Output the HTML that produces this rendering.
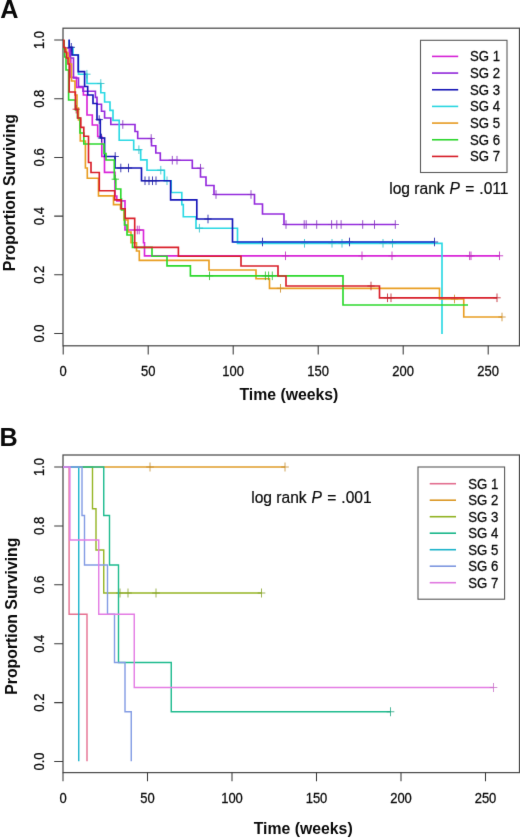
<!DOCTYPE html>
<html lang="en">
<head>
<meta charset="utf-8">
<title>Kaplan-Meier survival curves</title>
<style>
html,body{margin:0;padding:0;background:#fff;}
body{width:520px;height:839px;overflow:hidden;font-family:"Liberation Sans",sans-serif;}
svg{display:block;}
svg text{font-family:"Liberation Sans",sans-serif;fill:#0a0a0a;}
.tk{font-size:13px;stroke:#0a0a0a;stroke-width:0.25px;}
.ax{font-size:15.8px;font-weight:bold;}
.pl{font-size:25.2px;font-weight:bold;}
.lg{font-size:13.2px;stroke:#0a0a0a;stroke-width:0.25px;}
.an{font-size:15.6px;stroke:#0a0a0a;stroke-width:0.2px;}
</style>
</head>
<body>
<svg width="520" height="839" viewBox="0 0 520 839">
<defs><filter id="soft" x="0" y="0" width="520" height="839" filterUnits="userSpaceOnUse" color-interpolation-filters="sRGB"><feConvolveMatrix order="3" kernelMatrix="0.0072 0.0847 0.0072 0.0847 1 0.0847 0.0072 0.0847 0.0072" divisor="1.3673" edgeMode="duplicate" preserveAlpha="false"/></filter></defs>
<g filter="url(#soft)">
<rect width="520" height="839" fill="#fff"/>
<text class="pl" x="0.2" y="17.6">A</text>
<text class="pl" x="-0.5" y="445.6">B</text>
<rect x="63" y="28.2" width="456.5" height="317.6" fill="none" stroke="#4c4c4c" stroke-width="1.25"/>
<path d="M63.2 345.8v8.6M148.2 345.8v8.6M233.2 345.8v8.6M318.2 345.8v8.6M403.2 345.8v8.6M488.2 345.8v8.6M63 333.5h-8.8M63 274.8h-8.8M63 216.1h-8.8M63 157.4h-8.8M63 98.7h-8.8M63 40h-8.8" stroke="#3a3a3a" stroke-width="1.05" fill="none"/>
<text class="tk" transform="translate(63.2 375.6) scale(1 1.1)" text-anchor="middle">0</text>
<text class="tk" transform="translate(148.2 375.6) scale(1 1.1)" text-anchor="middle">50</text>
<text class="tk" transform="translate(233.2 375.6) scale(1 1.1)" text-anchor="middle">100</text>
<text class="tk" transform="translate(318.2 375.6) scale(1 1.1)" text-anchor="middle">150</text>
<text class="tk" transform="translate(403.2 375.6) scale(1 1.1)" text-anchor="middle">200</text>
<text class="tk" transform="translate(488.2 375.6) scale(1 1.1)" text-anchor="middle">250</text>
<text class="tk" transform="translate(43.5 333.5) rotate(-90) scale(1 1.12)" text-anchor="middle">0.0</text>
<text class="tk" transform="translate(43.5 274.8) rotate(-90) scale(1 1.12)" text-anchor="middle">0.2</text>
<text class="tk" transform="translate(43.5 216.1) rotate(-90) scale(1 1.12)" text-anchor="middle">0.4</text>
<text class="tk" transform="translate(43.5 157.4) rotate(-90) scale(1 1.12)" text-anchor="middle">0.6</text>
<text class="tk" transform="translate(43.5 98.7) rotate(-90) scale(1 1.12)" text-anchor="middle">0.8</text>
<text class="tk" transform="translate(43.5 40) rotate(-90) scale(1 1.12)" text-anchor="middle">1.0</text>
<text class="ax" transform="translate(14.5 192.6) rotate(-90)" text-anchor="middle">Proportion Surviving</text>
<text class="ax" x="288.9" y="399.8" text-anchor="middle">Time (weeks)</text>
<g class="curvesA">
<path d="M63.9 40H63.9V48H69.2V59H70.8V77.3H76.5V87.3H83.4V95H87V115H92.3V125H97.7V136.5H101.8V156.5H104.5V172.3H115V196H116.8V200.8H125V230H143.5V242.7H144.5V255.8H499.5" stroke="#d925d9" stroke-width="1.65" fill="none"/>
<path d="M137.3 225.7v8.6M133.65 230h7.31M139.2 225.7v8.6M135.54 230h7.31M285.5 251.5v8.6M281.85 255.8h7.31M362 251.5v8.6M358.35 255.8h7.31M392 251.5v8.6M388.35 255.8h7.31M469.6 251.5v8.6M465.95 255.8h7.31M471 251.5v8.6M467.35 255.8h7.31M499.5 251.5v8.6M495.85 255.8h7.31" stroke="#c02ac0" stroke-width="0.85" fill="none"/>
<path d="M63.9 40H63.9V48H70.5V58H73.5V78H78.5V86.5H83V91.2H95.4V97.3H97V104.2H101.5V111.2H104.6V118H110.8V124.5H135V131.5H137.7V138.5H151.5V145.7H155.8V153H160.3V160.2H192.3V168.2H200.5V177H206V185.5H214V194.5H254.5V204H262.5V214H284V224.5H395.3" stroke="#952bdd" stroke-width="1.65" fill="none"/>
<path d="M122.8 120.2v8.6M119.14 124.5h7.31M151.2 134.2v8.6M147.54 138.5h7.31M172.3 155.9v8.6M168.65 160.2h7.31M177 155.9v8.6M173.34 160.2h7.31M200.5 163.9v8.6M196.84 168.2h7.31M216 190.2v8.6M212.34 194.5h7.31M251 190.2v8.6M247.34 194.5h7.31M286 220.2v8.6M282.35 224.5h7.31M304.2 220.2v8.6M300.55 224.5h7.31M306.2 220.2v8.6M302.55 224.5h7.31M316.7 220.2v8.6M313.05 224.5h7.31M331.6 220.2v8.6M327.95 224.5h7.31M336.8 220.2v8.6M333.15 224.5h7.31M341.1 220.2v8.6M337.45 224.5h7.31M362.7 220.2v8.6M359.05 224.5h7.31M374.5 220.2v8.6M370.85 224.5h7.31M395.3 220.2v8.6M391.65 224.5h7.31" stroke="#872fc3" stroke-width="0.85" fill="none"/>
<path d="M69.2 40H69.2V47.5H73V55H78.5V74.2H87V83.5H100.8V92.7H104.6V102H110V110.4H113V120.4H119.2V140.2H133.7V149.7H140.7V159.8H147V170.2H164.4V180.75H171.2V192.5H181.8V204.6H183.3V216.7H196V228.2H237.5V243.3H442V334H442" stroke="#2cd9e4" stroke-width="1.65" fill="none"/>
<path d="M86.9 69.9v8.6M83.25 74.2h7.31M100.8 79.2v8.6M97.14 83.5h7.31M138.9 145.4v8.6M135.25 149.7h7.31M160.8 165.9v8.6M157.15 170.2h7.31M167 176.45v8.6M163.34 180.75h7.31M199.4 223.9v8.6M195.75 228.2h7.31M304.5 239v8.6M300.85 243.3h7.31M332 239v8.6M328.35 243.3h7.31M342 239v8.6M338.35 243.3h7.31M383 239v8.6M379.35 243.3h7.31M392.5 239v8.6M388.85 243.3h7.31" stroke="#30c0c9" stroke-width="0.85" fill="none"/>
<path d="M69.2 39.6H69.2V47.3H72V55H78.2V71.6H84.6V86.5H87.7V95H93V103.5H97V119.6H100.3V138H104.6V156.5H115V168H141.5V180.75H170.6V199.8H196.8V219H232.5V242H434.5" stroke="#1717b9" stroke-width="1.65" fill="none"/>
<path d="M71.3 43v8.6M67.64 47.3h7.31M99.2 115.3v8.6M95.55 119.6h7.31M101.5 133.7v8.6M97.84 138h7.31M115.2 152.2v8.6M111.55 156.5h7.31M120.8 163.7v8.6M117.14 168h7.31M128.5 163.7v8.6M124.84 168h7.31M145 176.45v8.6M141.34 180.75h7.31M149 176.45v8.6M145.34 180.75h7.31M152.5 176.45v8.6M148.84 180.75h7.31M156 176.45v8.6M152.34 180.75h7.31M208 214.7v8.6M204.34 219h7.31M262.5 237.7v8.6M258.85 242h7.31M349.5 237.7v8.6M345.85 242h7.31M434.5 237.7v8.6M430.85 242h7.31" stroke="#1e1ea5" stroke-width="0.85" fill="none"/>
<path d="M233 242.2H434.5" stroke="#225bd6" stroke-width="1.65" fill="none"/>
<path d="M63.9 40H63.9V48.3H66.5V53H68V58H69.5V64H71.5V81H75V95H77V108H78.5V120H80.3V141H85.4V168H87.3V178.2H98.5V195.8H113.5V204.6H120.5V209H124V220H128V232H131V242.7H136.5V251H139.3V260.4H209V270H256V278.75H269.5V288.3H439.5V299H463.75V317H502" stroke="#e99e23" stroke-width="1.65" fill="none"/>
<path d="M280.5 284v8.6M276.85 288.3h7.31M454.5 294.7v8.6M450.85 299h7.31M502 312.7v8.6M498.35 317h7.31" stroke="#ce8f29" stroke-width="0.85" fill="none"/>
<path d="M63.9 40H63.9V49H64.7V57H66V70H68.6V100H75.5V110H77.5V118H80V133H83.8V144H104V153.5H106V160H114.3V179.2H115.8V189H120.8V199H121.5V210H124.5V225H127V235H132.5V247.3H152V256.2H167V265.8H190.4V275.8H343V305H468" stroke="#2cd92c" stroke-width="1.65" fill="none"/>
<path d="M115.3 174.9v8.6M111.64 179.2h7.31M209.5 271.5v8.6M205.84 275.8h7.31M265.4 271.5v8.6M261.75 275.8h7.31M268.6 271.5v8.6M264.95 275.8h7.31M272.3 271.5v8.6M268.65 275.8h7.31" stroke="#30c030" stroke-width="0.85" fill="none"/>
<path d="M63.9 39.6H63.9V47.5H65V52H66.5V58H68V64H69.2V92H75.4V109.2H77.7V118H80.8V127.3H83.8V136.2H88.5V162.5H91V172.5H99.3V190.7H114.7V199.9H121.2V208.7H125.2V218.4H134.7V247.3H178.4V256.2H241V266H278V276H286V286H379.5V297.8H497" stroke="#d9202b" stroke-width="1.65" fill="none"/>
<path d="M76.2 104.9v8.6M72.55 109.2h7.31M371 281.7v8.6M367.35 286h7.31M387.5 293.5v8.6M383.85 297.8h7.31M391 293.5v8.6M387.35 297.8h7.31M497 293.5v8.6M493.35 297.8h7.31" stroke="#c0262f" stroke-width="0.85" fill="none"/>
</g>
<rect x="420.5" y="40.3" width="86.5" height="132.2" fill="#fff" stroke="#5a5a5a" stroke-width="1.1"/>
<path d="M432 56.4H458.2" stroke="#d622d6" stroke-width="1.6"/>
<text class="lg" transform="translate(470 61.2) scale(1 1.1)">SG 1</text>
<path d="M432 73.07H458.2" stroke="#9127d9" stroke-width="1.6"/>
<text class="lg" transform="translate(470 77.87) scale(1 1.1)">SG 2</text>
<path d="M432 89.74H458.2" stroke="#1313b5" stroke-width="1.6"/>
<text class="lg" transform="translate(470 94.54) scale(1 1.1)">SG 3</text>
<path d="M432 106.41H458.2" stroke="#29d6e0" stroke-width="1.6"/>
<text class="lg" transform="translate(470 111.21) scale(1 1.1)">SG 4</text>
<path d="M432 123.08H458.2" stroke="#e69a20" stroke-width="1.6"/>
<text class="lg" transform="translate(470 127.88) scale(1 1.1)">SG 5</text>
<path d="M432 139.75H458.2" stroke="#29d629" stroke-width="1.6"/>
<text class="lg" transform="translate(470 144.55) scale(1 1.1)">SG 6</text>
<path d="M432 156.42H458.2" stroke="#d61c27" stroke-width="1.6"/>
<text class="lg" transform="translate(470 161.22) scale(1 1.1)">SG 7</text>
<text class="an" transform="translate(389.2 194.4) scale(1 1.08)">log rank <tspan font-style="italic" dx="0.5">P</tspan><tspan dx="1.1"> =</tspan><tspan dx="0.6"> .011</tspan></text>
<rect x="63" y="455" width="456.5" height="317.6" fill="none" stroke="#4c4c4c" stroke-width="1.25"/>
<path d="M63 772.6v8.6M147.5 772.6v8.6M232 772.6v8.6M316.5 772.6v8.6M401 772.6v8.6M485.5 772.6v8.6M63 761.5h-8.8M63 702.6h-8.8M63 643.7h-8.8M63 584.8h-8.8M63 525.9h-8.8M63 467h-8.8" stroke="#3a3a3a" stroke-width="1.05" fill="none"/>
<text class="tk" transform="translate(63 803) scale(1 1.1)" text-anchor="middle">0</text>
<text class="tk" transform="translate(147.5 803) scale(1 1.1)" text-anchor="middle">50</text>
<text class="tk" transform="translate(232 803) scale(1 1.1)" text-anchor="middle">100</text>
<text class="tk" transform="translate(316.5 803) scale(1 1.1)" text-anchor="middle">150</text>
<text class="tk" transform="translate(401 803) scale(1 1.1)" text-anchor="middle">200</text>
<text class="tk" transform="translate(485.5 803) scale(1 1.1)" text-anchor="middle">250</text>
<text class="tk" transform="translate(43.5 761.5) rotate(-90) scale(1 1.12)" text-anchor="middle">0.0</text>
<text class="tk" transform="translate(43.5 702.6) rotate(-90) scale(1 1.12)" text-anchor="middle">0.2</text>
<text class="tk" transform="translate(43.5 643.7) rotate(-90) scale(1 1.12)" text-anchor="middle">0.4</text>
<text class="tk" transform="translate(43.5 584.8) rotate(-90) scale(1 1.12)" text-anchor="middle">0.6</text>
<text class="tk" transform="translate(43.5 525.9) rotate(-90) scale(1 1.12)" text-anchor="middle">0.8</text>
<text class="tk" transform="translate(43.5 467) rotate(-90) scale(1 1.12)" text-anchor="middle">1.0</text>
<text class="ax" transform="translate(17 616.2) rotate(-90)" text-anchor="middle">Proportion Surviving</text>
<text class="ax" x="303.2" y="834" text-anchor="middle">Time (weeks)</text>
<g class="curvesB">
<path d="M63 467H69.1V614.2H87V761.3H87" stroke="#e67191" stroke-width="1.42" fill="none"/>
<path d="M63 467H285" stroke="#df9c29" stroke-width="1.42" fill="none"/>
<path d="M150 462.5v9M146.18 467h7.65M285 462.5v9M281.18 467h7.65" stroke="#c58d2d" stroke-width="0.8" fill="none"/>
<path d="M63 467H92.5V508.75H96V550H103.75V593H261.5" stroke="#95b525" stroke-width="1.42" fill="none"/>
<path d="M120 588.5v9M116.17 593h7.65M128 588.5v9M124.17 593h7.65M156 588.5v9M152.18 593h7.65M261.5 588.5v9M257.68 593h7.65" stroke="#87a22a" stroke-width="0.8" fill="none"/>
<path d="M63 467H103.75V515.5H109.5V565H118.5V662.5H171.25V711.75H390.5" stroke="#1ebb8e" stroke-width="1.42" fill="none"/>
<path d="M390.5 707.25v9M386.68 711.75h7.65" stroke="#24a781" stroke-width="0.8" fill="none"/>
<path d="M63 467H78.75V761.3H78.75" stroke="#1eb5cd" stroke-width="1.42" fill="none"/>
<path d="M63 467H82V515.5H84.5V565H107.5V614.2H114.5V662.5H125V711.75H131.25V761.3H131.25" stroke="#839ce4" stroke-width="1.42" fill="none"/>
<path d="M63 467H69.9V540H98.75V614.2H134.25V687.5H493.5" stroke="#e47ce4" stroke-width="1.42" fill="none"/>
<path d="M493.5 683v9M489.68 687.5h7.65" stroke="#c972c9" stroke-width="0.8" fill="none"/>
</g>
<rect x="418" y="467" width="86.6" height="132.2" fill="#fff" stroke="#5a5a5a" stroke-width="1.1"/>
<path d="M429.7 483.7H456" stroke="#e26d8e" stroke-width="1.6"/>
<text class="lg" transform="translate(468.2 488.5) scale(1 1.1)">SG 1</text>
<path d="M429.7 500.2H456" stroke="#db9825" stroke-width="1.6"/>
<text class="lg" transform="translate(468.2 505) scale(1 1.1)">SG 2</text>
<path d="M429.7 516.7H456" stroke="#91b222" stroke-width="1.6"/>
<text class="lg" transform="translate(468.2 521.5) scale(1 1.1)">SG 3</text>
<path d="M429.7 533.2H456" stroke="#1ab78a" stroke-width="1.6"/>
<text class="lg" transform="translate(468.2 538) scale(1 1.1)">SG 4</text>
<path d="M429.7 549.7H456" stroke="#1ab2c9" stroke-width="1.6"/>
<text class="lg" transform="translate(468.2 554.5) scale(1 1.1)">SG 5</text>
<path d="M429.7 566.2H456" stroke="#7f98e0" stroke-width="1.6"/>
<text class="lg" transform="translate(468.2 571) scale(1 1.1)">SG 6</text>
<path d="M429.7 582.7H456" stroke="#e078e0" stroke-width="1.6"/>
<text class="lg" transform="translate(468.2 587.5) scale(1 1.1)">SG 7</text>
<text class="an" transform="translate(251.2 502.7) scale(1 1.08)">log rank <tspan font-style="italic" dx="0.5">P</tspan><tspan dx="1.1"> =</tspan><tspan dx="0.6"> .001</tspan></text>
</g>
</svg>
</body>
</html>
